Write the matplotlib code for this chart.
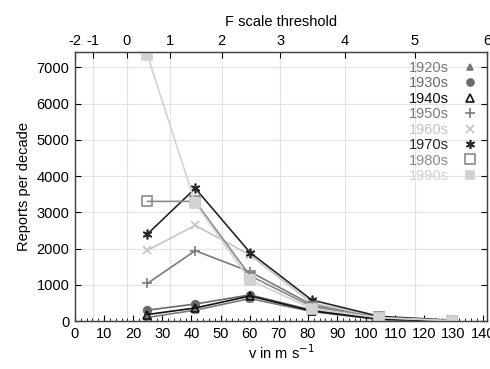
import numpy as np
import matplotlib.pyplot as plt
from matplotlib.lines import Line2D
from matplotlib.ticker import MultipleLocator

plt.rcParams['font.family'] = ['Liberation Sans', 'DejaVu Sans']
plt.rcParams['font.size'] = 10.5

# wind speed at F-scale midpoints (m/s)
speeds = [24.9, 41.3, 60.1, 81.3, 104.4, 129.4]

decades = ['1920s', '1930s', '1940s', '1950s', '1960s', '1970s', '1980s', '1990s']
reports = {
    '1920s': [100, 300, 620, 260, 40, 5],
    '1930s': [300, 470, 720, 300, 60, 8],
    '1940s': [180, 360, 690, 280, 50, 6],
    '1950s': [1040, 1940, 1360, 450, 100, 12],
    '1960s': [1950, 2640, 1820, 500, 110, 15],
    '1970s': [2400, 3660, 1890, 580, 130, 20],
    '1980s': [3300, 3300, 1250, 400, 100, 12],
    '1990s': [7330, 3250, 1130, 340, 90, 10],
}

# F scale tick labels for the top axis
f_levels = [-2, -1, 0, 1, 2, 3, 4, 5, 6]

styles = {
    '1920s': dict(color='#7a7a7a', marker='^', mfc='#7a7a7a', ms=4.5),
    '1930s': dict(color='#6a6a6a', marker='o', mfc='#6a6a6a', ms=5.5),
    '1940s': dict(color='#111111', marker='^', mfc='none', ms=6),
    '1950s': dict(color='#7a7a7a', marker='+', mfc='none', ms=7),
    '1960s': dict(color='#c4c4c4', marker='x', mfc='none', ms=6),
    '1970s': dict(color='#262626', marker=(6, 2, 0), mfc='none', ms=7),
    '1980s': dict(color='#8a8a8a', marker='s', mfc='none', ms=7),
    '1990s': dict(color='#d2d2d2', marker='s', mfc='#d2d2d2', ms=6.5),
}

fig = plt.figure(figsize=(4.9, 3.69), dpi=100)
ax = fig.add_axes([0.153, 0.130, 0.841, 0.729])

xmax = 141.5
for d in decades:
    s = styles[d]
    ax.plot(speeds, reports[d], color=s['color'], marker=s['marker'], mfc=s['mfc'],
            mec=s['color'], ms=s['ms'], lw=1.2, mew=1.2, zorder=3)

ax.set_xlim(0, xmax)
ax.set_ylim(0, 7420)
ax.xaxis.set_major_locator(MultipleLocator(10))
ax.xaxis.set_minor_locator(MultipleLocator(2))
ax.yaxis.set_major_locator(MultipleLocator(1000))
ax.tick_params(direction='in', which='both', right=True, length=4, pad=4)
ax.tick_params(which='minor', length=2)
ax.tick_params(axis='x', top=False, which='both')
ax.set_xlabel('v in m s$^{-1}$', labelpad=2)
ax.set_ylabel('Reports per decade', labelpad=4)
ax.yaxis.grid(True, color='#e2e2e2', lw=0.8)

f_pos = [min(6.3 * (f + 2) ** 1.5, xmax) for f in f_levels]
ax2 = ax.twiny()
ax2.set_xlim(ax.get_xlim())
ax2.set_xticks(f_pos)
ax2.set_xticklabels([str(f) for f in f_levels])
ax2.tick_params(direction='in', length=4, pad=3)
ax2.set_xlabel('F scale threshold', labelpad=6)
for p in f_pos[1:-1]:
    ax.axvline(p, color='#e2e2e2', lw=0.8, zorder=0)

for a in (ax, ax2):
    for sp in a.spines.values():
        sp.set_color('#444444')
        sp.set_linewidth(0.9)

handles = []
for d in decades:
    s = styles[d]
    handles.append(Line2D([], [], ls='none', color=s['color'], marker=s['marker'],
                          mfc=s['mfc'], mec=s['color'], ms=s['ms'] - 0.5, mew=1.2))
leg = ax.legend(handles, decades, loc='upper right', frameon=False, markerfirst=False,
                labelcolor=[styles[d]['color'] for d in decades], handlelength=1.2,
                handletextpad=0.8, labelspacing=0.1, borderaxespad=0.2)

fig.savefig('out.png', dpi=100, facecolor='white')
